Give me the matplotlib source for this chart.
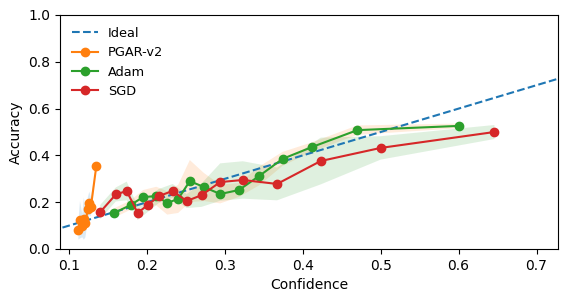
import numpy as np
import matplotlib
matplotlib.use("Agg")
import matplotlib.pyplot as plt

# reliability curves (confidence, accuracy, spread)
pgar_conf = [0.112, 0.114, 0.117, 0.119, 0.121, 0.124, 0.126, 0.128, 0.135]
pgar_acc = [0.08, 0.125, 0.10, 0.13, 0.11, 0.17, 0.195, 0.18, 0.355]
pgar_std = [0.04, 0.08, 0.05, 0.09, 0.06, 0.05, 0.05, 0.04, 0.0]

adam_conf = [0.158, 0.179, 0.195, 0.212, 0.226, 0.24, 0.255, 0.273, 0.294, 0.318, 0.344, 0.374, 0.412, 0.47, 0.6]
adam_acc = [0.154, 0.188, 0.222, 0.226, 0.197, 0.214, 0.29, 0.265, 0.235, 0.252, 0.312, 0.385, 0.436, 0.508, 0.526]
adam_std = [0.02, 0.02, 0.03, 0.04, 0.05, 0.06, 0.09, 0.06, 0.04, 0.03, 0.04, 0.03, 0.02, 0.02, 0.01]

sgd_conf = [0.14, 0.16, 0.174, 0.188, 0.201, 0.215, 0.233, 0.251, 0.27, 0.294, 0.323, 0.367, 0.423, 0.5, 0.646]
sgd_acc = [0.158, 0.233, 0.248, 0.154, 0.188, 0.226, 0.248, 0.205, 0.23, 0.286, 0.295, 0.278, 0.376, 0.432, 0.5]
sgd_std = [0.03, 0.03, 0.04, 0.03, 0.03, 0.03, 0.03, 0.03, 0.05, 0.08, 0.08, 0.07, 0.1, 0.05, 0.03]

fig = plt.figure(figsize=(5.67, 3.0), dpi=100)
ax = fig.add_axes([0.106, 0.17, 0.878, 0.78])

ax.plot([0, 1], [0, 1], "--", color="C0", label="Ideal")

for conf, acc, std, c, name in [(pgar_conf, pgar_acc, pgar_std, "C1", "PGAR-v2"),
                                (adam_conf, adam_acc, adam_std, "C2", "Adam"),
                                (sgd_conf, sgd_acc, sgd_std, "C3", "SGD")]:
    conf = np.array(conf)
    acc = np.array(acc)
    std = np.array(std)
    ax.plot(conf, acc, "o-", color=c, label=name)
    ax.fill_between(conf, acc - std, acc + std, alpha=0.15)

ax.set_xlim(0.0885, 0.7275)
ax.set_ylim(0, 1)
ax.set_xlabel("Confidence")
ax.set_ylabel("Accuracy")
ax.legend(loc="upper left", frameon=False, fontsize=9.3)

fig.savefig("out.png", dpi=100)
